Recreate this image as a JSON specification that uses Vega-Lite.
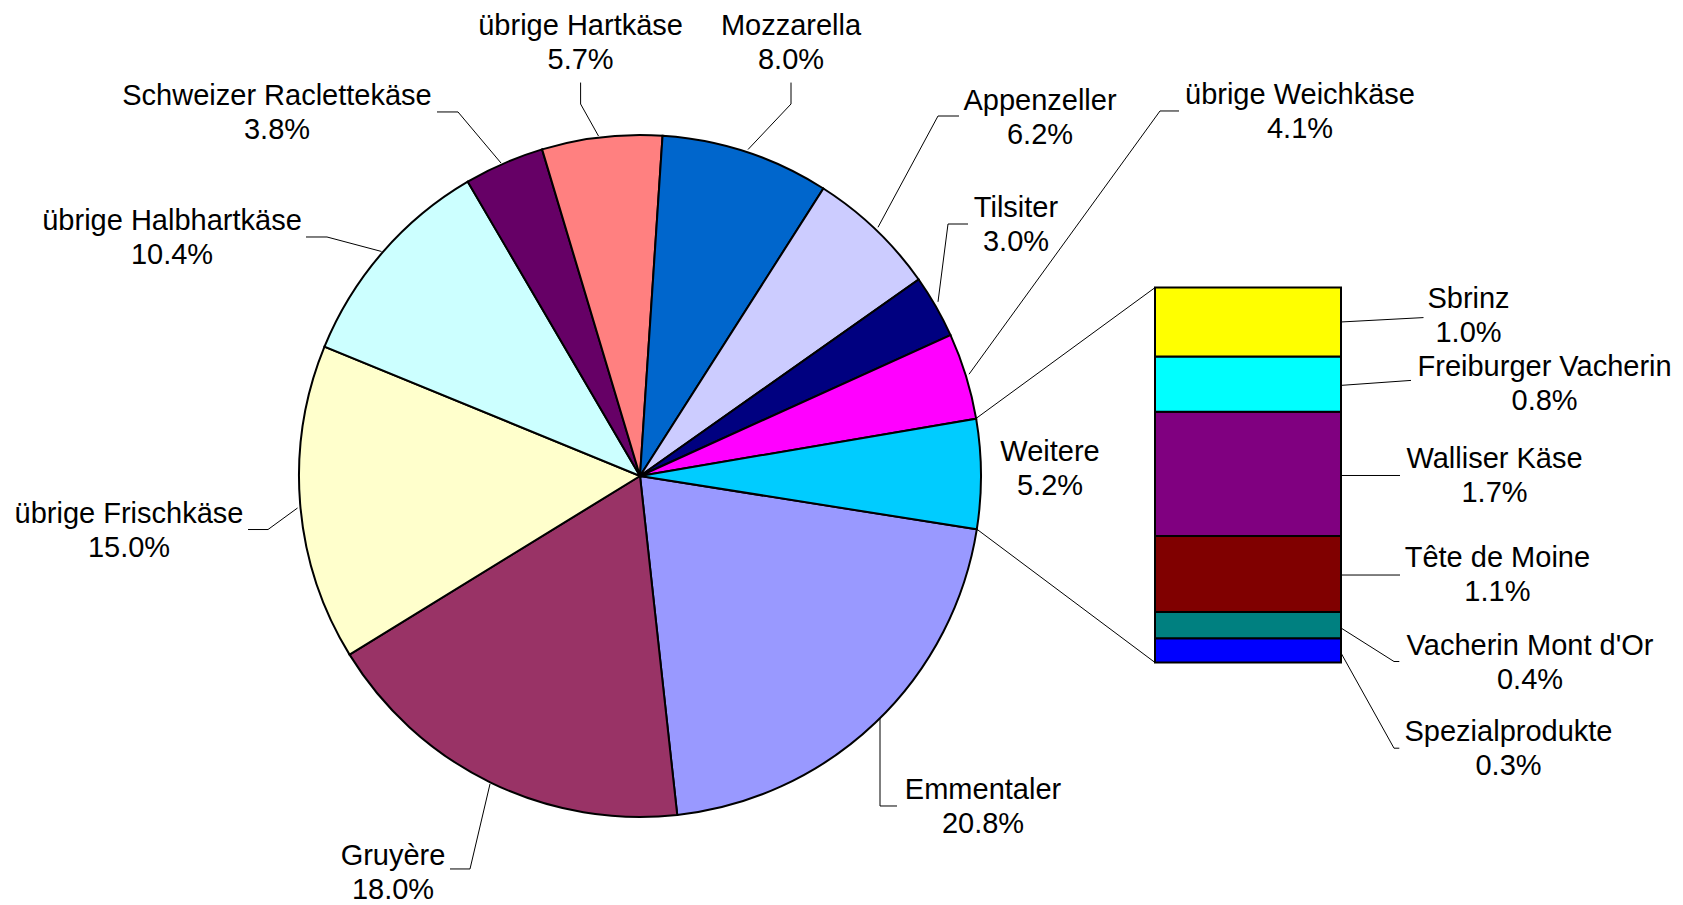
{
  "$schema": "https://vega.github.io/schema/vega-lite/v6.json",
  "width": 1683,
  "height": 905,
  "padding": 0,
  "autosize": {"type": "fit", "contains": "padding"},
  "background": "white",
  "config": {"view": {"stroke": null}, "text": {"font": "Liberation Sans"}},
  "datasets": {
    "pie": [
      {"name": "Emmentaler", "value": 20.8, "ord": 1},
      {"name": "Gruyère", "value": 18.0, "ord": 2},
      {"name": "übrige Frischkäse", "value": 15.0, "ord": 3},
      {"name": "übrige Halbhartkäse", "value": 10.4, "ord": 4},
      {"name": "Schweizer Raclettekäse", "value": 3.8, "ord": 5},
      {"name": "übrige Hartkäse", "value": 5.7, "ord": 6},
      {"name": "Mozzarella", "value": 8.0, "ord": 7},
      {"name": "Appenzeller", "value": 6.2, "ord": 8},
      {"name": "Tilsiter", "value": 3.0, "ord": 9},
      {"name": "übrige Weichkäse", "value": 4.1, "ord": 10},
      {"name": "Weitere", "value": 5.2, "ord": 11}
    ],
    "bar": [
      {"name": "Spezialprodukte", "value": 0.34, "ord": 1},
      {"name": "Vacherin Mont d'Or", "value": 0.37, "ord": 2},
      {"name": "Tête de Moine", "value": 1.07, "ord": 3},
      {"name": "Walliser Käse", "value": 1.75, "ord": 4},
      {"name": "Freiburger Vacherin", "value": 0.78, "ord": 5},
      {"name": "Sbrinz", "value": 0.97, "ord": 6}
    ],
    "labels": [
      {"name": "übrige Hartkäse", "pct": "5.7%", "x": 580.6, "y": 8.73},
      {"name": "Mozzarella", "pct": "8.0%", "x": 791, "y": 8.73},
      {"name": "Schweizer Raclettekäse", "pct": "3.8%", "x": 277, "y": 7.74},
      {"name": "übrige Halbhartkäse", "pct": "10.4%", "x": 172, "y": 5.98},
      {"name": "übrige Frischkäse", "pct": "15.0%", "x": 129, "y": 1.855},
      {"name": "Gruyère", "pct": "18.0%", "x": 393, "y": -2.96},
      {"name": "Emmentaler", "pct": "20.8%", "x": 983, "y": -2.03},
      {"name": "Weitere", "pct": "5.2%", "x": 1050, "y": 2.72},
      {"name": "Appenzeller", "pct": "6.2%", "x": 1040, "y": 7.67},
      {"name": "Tilsiter", "pct": "3.0%", "x": 1016, "y": 6.165},
      {"name": "übrige Weichkäse", "pct": "4.1%", "x": 1300, "y": 7.755},
      {"name": "Sbrinz", "pct": "1.0%", "x": 1468.5, "y": 4.88},
      {"name": "Freiburger Vacherin", "pct": "0.8%", "x": 1544.6, "y": 3.92},
      {"name": "Walliser Käse", "pct": "1.7%", "x": 1494.5, "y": 2.63},
      {"name": "Tête de Moine", "pct": "1.1%", "x": 1497.4, "y": 1.235},
      {"name": "Vacherin Mont d'Or", "pct": "0.4%", "x": 1530, "y": -0.004},
      {"name": "Spezialprodukte", "pct": "0.3%", "x": 1508.5, "y": -1.222}
    ],
    "lines": [
      {"id": "hart", "i": 0, "x": 580.6, "y": 8.168},
      {"id": "hart", "i": 1, "x": 580.6, "y": 7.866},
      {"id": "hart", "i": 2, "x": 598.5, "y": 7.415},
      {"id": "mozz", "i": 0, "x": 791, "y": 8.168},
      {"id": "mozz", "i": 1, "x": 791, "y": 7.866},
      {"id": "mozz", "i": 2, "x": 748, "y": 7.225},
      {"id": "racl", "i": 0, "x": 437, "y": 7.754},
      {"id": "racl", "i": 1, "x": 458, "y": 7.754},
      {"id": "racl", "i": 2, "x": 501, "y": 7.035},
      {"id": "halb", "i": 0, "x": 306, "y": 5.993},
      {"id": "halb", "i": 1, "x": 327, "y": 5.993},
      {"id": "halb", "i": 2, "x": 381.5, "y": 5.789},
      {"id": "frisch", "i": 0, "x": 248, "y": 1.873},
      {"id": "frisch", "i": 1, "x": 268, "y": 1.873},
      {"id": "frisch", "i": 2, "x": 297.5, "y": 2.176},
      {"id": "gruy", "i": 0, "x": 450, "y": -2.908},
      {"id": "gruy", "i": 1, "x": 470, "y": -2.908},
      {"id": "gruy", "i": 2, "x": 490, "y": -1.711},
      {"id": "emm", "i": 0, "x": 880, "y": -0.782},
      {"id": "emm", "i": 1, "x": 880, "y": -2.021},
      {"id": "emm", "i": 2, "x": 897, "y": -2.021},
      {"id": "app", "i": 0, "x": 959, "y": 7.697},
      {"id": "app", "i": 1, "x": 938, "y": 7.697},
      {"id": "app", "i": 2, "x": 878, "y": 6.13},
      {"id": "tils", "i": 0, "x": 968, "y": 6.176},
      {"id": "tils", "i": 1, "x": 948, "y": 6.176},
      {"id": "tils", "i": 2, "x": 938, "y": 5.08},
      {"id": "weich", "i": 0, "x": 1179, "y": 7.768},
      {"id": "weich", "i": 1, "x": 1160, "y": 7.768},
      {"id": "weich", "i": 2, "x": 969, "y": 4.06},
      {"id": "conUp", "i": 0, "x": 976, "y": 3.437},
      {"id": "conUp", "i": 1, "x": 1155, "y": 5.28},
      {"id": "conLo", "i": 0, "x": 977, "y": 1.876},
      {"id": "conLo", "i": 1, "x": 1155, "y": 0},
      {"id": "sbr", "i": 0, "x": 1341, "y": 4.796},
      {"id": "sbr", "i": 1, "x": 1423.5, "y": 4.858},
      {"id": "frei", "i": 0, "x": 1341, "y": 3.903},
      {"id": "frei", "i": 1, "x": 1411, "y": 3.973},
      {"id": "wall", "i": 0, "x": 1341, "y": 2.634},
      {"id": "wall", "i": 1, "x": 1400, "y": 2.634},
      {"id": "tete", "i": 0, "x": 1341, "y": 1.232},
      {"id": "tete", "i": 1, "x": 1400, "y": 1.232},
      {"id": "vmo", "i": 0, "x": 1341, "y": 0.486},
      {"id": "vmo", "i": 1, "x": 1394, "y": 0.014},
      {"id": "vmo", "i": 2, "x": 1399.3, "y": 0.014},
      {"id": "spez", "i": 0, "x": 1341, "y": 0.134},
      {"id": "spez", "i": 1, "x": 1394, "y": -1.207},
      {"id": "spez", "i": 2, "x": 1399.3, "y": -1.207}
    ]
  },
  "layer": [
    {
      "data": {"name": "lines"},
      "mark": {"type": "line", "color": "black", "strokeWidth": 1},
      "encoding": {
        "x": {"field": "x", "type": "quantitative", "axis": null, "scale": {"domain": [0, 1683], "nice": false, "zero": false}},
        "y": {"field": "y", "type": "quantitative", "axis": null, "scale": {"domain": [-3.4155, 9.331], "nice": false, "zero": false}},
        "detail": {"field": "id"},
        "order": {"field": "i"}
      }
    },
    {
      "data": {"name": "pie"},
      "mark": {"type": "arc", "radius": 341, "stroke": "black", "strokeWidth": 2},
      "encoding": {
        "x": {"datum": 640, "type": "quantitative", "axis": null, "scale": {"domain": [0, 1683], "nice": false, "zero": false}},
        "y": {"datum": 2.627, "type": "quantitative", "axis": null, "scale": {"domain": [-3.4155, 9.331], "nice": false, "zero": false}},
        "theta": {"field": "value", "type": "quantitative", "stack": true, "scale": {"range": [1.7279, 8.0111]}},
        "order": {"field": "ord"},
        "color": {
          "field": "name", "type": "nominal", "legend": null,
          "scale": {
            "domain": ["Emmentaler", "Gruyère", "übrige Frischkäse", "übrige Halbhartkäse", "Schweizer Raclettekäse", "übrige Hartkäse", "Mozzarella", "Appenzeller", "Tilsiter", "übrige Weichkäse", "Weitere", "Sbrinz", "Freiburger Vacherin", "Walliser Käse", "Tête de Moine", "Vacherin Mont d'Or", "Spezialprodukte"],
            "range": ["#9999FF", "#993366", "#FFFFCC", "#CCFFFF", "#660066", "#FF8080", "#0066CC", "#CCCCFF", "#000080", "#FF00FF", "#00CCFF", "#FFFF00", "#00FFFF", "#800080", "#800000", "#008080", "#0000FF"]
          }
        }
      }
    },
    {
      "data": {"name": "bar"},
      "transform": [{"stack": "value", "groupby": [], "sort": [{"field": "ord"}], "as": ["v0", "v1"]}],
      "mark": {"type": "rect", "stroke": "black", "strokeWidth": 2},
      "encoding": {
        "x": {"datum": 1155, "type": "quantitative", "axis": null, "scale": {"domain": [0, 1683], "nice": false, "zero": false}},
        "x2": {"datum": 1341},
        "y": {"field": "v0", "type": "quantitative", "axis": null, "scale": {"domain": [-3.4155, 9.331], "nice": false, "zero": false}},
        "y2": {"field": "v1"},
        "color": {
          "field": "name", "type": "nominal", "legend": null,
          "scale": {
            "domain": ["Emmentaler", "Gruyère", "übrige Frischkäse", "übrige Halbhartkäse", "Schweizer Raclettekäse", "übrige Hartkäse", "Mozzarella", "Appenzeller", "Tilsiter", "übrige Weichkäse", "Weitere", "Sbrinz", "Freiburger Vacherin", "Walliser Käse", "Tête de Moine", "Vacherin Mont d'Or", "Spezialprodukte"],
            "range": ["#9999FF", "#993366", "#FFFFCC", "#CCFFFF", "#660066", "#FF8080", "#0066CC", "#CCCCFF", "#000080", "#FF00FF", "#00CCFF", "#FFFF00", "#00FFFF", "#800080", "#800000", "#008080", "#0000FF"]
          }
        }
      }
    },
    {
      "data": {"name": "labels"},
      "mark": {"type": "text", "fontSize": 29, "font": "Liberation Sans", "align": "center", "baseline": "middle", "dy": -17, "color": "black"},
      "encoding": {
        "x": {"field": "x", "type": "quantitative", "axis": null, "scale": {"domain": [0, 1683], "nice": false, "zero": false}},
        "y": {"field": "y", "type": "quantitative", "axis": null, "scale": {"domain": [-3.4155, 9.331], "nice": false, "zero": false}},
        "text": {"field": "name", "type": "nominal"}
      }
    },
    {
      "data": {"name": "labels"},
      "mark": {"type": "text", "fontSize": 29, "font": "Liberation Sans", "align": "center", "baseline": "middle", "dy": 17, "color": "black"},
      "encoding": {
        "x": {"field": "x", "type": "quantitative", "axis": null, "scale": {"domain": [0, 1683], "nice": false, "zero": false}},
        "y": {"field": "y", "type": "quantitative", "axis": null, "scale": {"domain": [-3.4155, 9.331], "nice": false, "zero": false}},
        "text": {"field": "pct", "type": "nominal"}
      }
    }
  ]
}
